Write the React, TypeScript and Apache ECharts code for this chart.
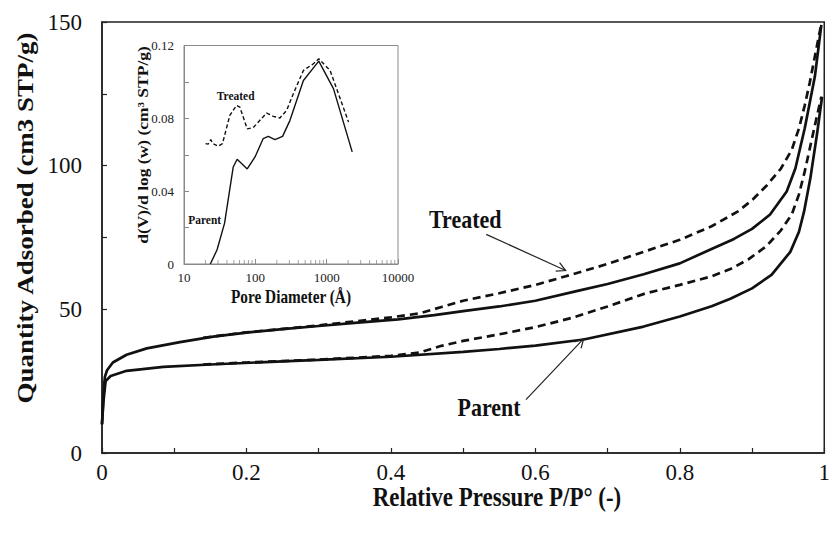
import React, { useEffect, useRef } from "react";
import * as echarts from "echarts";

// ---------- Main isotherm data: [P/P°, quantity adsorbed] ----------
const treatedAds: number[][] = [
  [0, 10], [0.002, 20], [0.004, 26.5], [0.007, 28.8], [0.015, 31.5], [0.034, 34.2],
  [0.062, 36.4], [0.108, 38.6], [0.154, 40.5], [0.2, 41.9], [0.25, 43.1], [0.3, 44.2],
  [0.35, 45.3], [0.41, 46.5], [0.46, 48], [0.5, 49.4], [0.55, 51], [0.6, 53],
  [0.66, 56.5], [0.7, 58.8], [0.75, 62.2], [0.8, 66], [0.844, 71], [0.875, 74.5],
  [0.9, 78], [0.925, 83], [0.948, 91], [0.96, 99], [0.973, 113], [0.987, 131], [0.996, 149],
];
const treatedDes: number[][] = [
  [0.14, 40.1], [0.2, 42], [0.3, 44.4], [0.4, 47.2], [0.44, 48.6], [0.47, 50.8],
  [0.5, 53], [0.55, 55.6], [0.6, 58.5], [0.642, 61.5], [0.7, 65.8], [0.752, 70.2],
  [0.8, 74.2], [0.844, 78.9], [0.88, 84], [0.9, 88], [0.92, 93], [0.94, 99],
  [0.955, 105.5], [0.965, 113], [0.973, 121], [0.98, 129], [0.987, 138], [0.996, 149.5],
];
const parentAds: number[][] = [
  [0, 10], [0.002, 18], [0.005, 25], [0.012, 26.8], [0.034, 28.6], [0.085, 30],
  [0.15, 30.8], [0.25, 31.9], [0.3, 32.4], [0.4, 33.5], [0.5, 35.2], [0.55, 36.2],
  [0.6, 37.4], [0.667, 39.5], [0.75, 44], [0.8, 47.5], [0.844, 51.1], [0.87, 53.7],
  [0.9, 57.3], [0.927, 62], [0.953, 70], [0.965, 77], [0.972, 84], [0.981, 96],
  [0.99, 111], [0.997, 124],
];
const parentDes: number[][] = [
  [0.14, 30.8], [0.2, 31.5], [0.3, 32.5], [0.4, 33.8], [0.44, 35], [0.47, 37.3],
  [0.5, 39], [0.55, 41.3], [0.6, 43.8], [0.65, 47], [0.7, 51], [0.752, 55.5],
  [0.8, 58.5], [0.844, 61.5], [0.87, 64], [0.895, 67.4], [0.92, 72], [0.94, 77.5],
  [0.955, 83], [0.965, 90], [0.973, 98], [0.987, 114], [0.996, 124],
];

// ---------- Inset pore size distribution: [pore diameter Å, dV/dlog(w)] ----------
const parentPsd: number[][] = [
  [23.4, 0], [29, 0.0077], [37, 0.0223], [49, 0.0533], [55.6, 0.0575], [77, 0.0522],
  [99, 0.0588], [129, 0.0689], [152, 0.0701], [188, 0.0683], [241, 0.0701],
  [306, 0.0789], [472, 0.1008], [775, 0.1114], [1245, 0.0963], [2280, 0.0616],
];
const treatedPsd: number[][] = [
  [20, 0.0661], [21.8, 0.0658], [23.7, 0.0683], [25.6, 0.0661], [30, 0.0647],
  [34.6, 0.0661], [43.9, 0.0816], [54.4, 0.0871], [60.7, 0.0862], [76.9, 0.0742],
  [93.4, 0.0749], [116, 0.0789], [144, 0.0829], [179, 0.0811], [221, 0.0802],
  [275, 0.0844], [341, 0.0935], [472, 0.1063], [652, 0.11], [775, 0.1127],
  [1117, 0.1063], [2026, 0.078],
];

// ---------- Tick labels ----------
const mainXTickLabels = ["0", "0.2", "0.4", "0.6", "0.8", "1"];
const mainYTickLabels = ["0", "50", "100", "150"];
const insetXTickLabels = ["10", "100", "1000", "10000"];
const insetYTickLabels = ["0", "0.04", "0.08", "0.12"];
const insetMinorLogTicks = [20, 30, 40, 50, 60, 70, 80, 90, 200, 300, 400, 500, 600, 700, 800, 900, 2000, 3000, 4000, 5000, 6000, 7000, 8000, 9000];

// ---------- Annotation anchors (data coordinates) ----------
const treatedLabelAt = [0.503, 81.3];
const treatedArrowFrom = [0.532, 76.1];
const treatedArrowTo = [0.642, 63.5];
const parentLabelAt = [0.536, 15.8];
const parentArrowFrom = [0.587, 18.6];
const parentArrowTo = [0.667, 39.8];
const insetTreatedLabelAt = [53, 0.0926];
const insetParentLabelAt = [19.5, 0.0241];

const SERIF = "'Liberation Serif', 'Times New Roman', serif";
const INK = "#111";
const GRAY = "#8a8a8a";

export default function App() {
  const ref = useRef<HTMLDivElement>(null);

  useEffect(() => {
    const chart = echarts.init(ref.current!, null, { renderer: "svg" });

    const mainLine = (data: number[][], dashed: boolean) => ({
      type: "line",
      xAxisIndex: 0,
      yAxisIndex: 0,
      data,
      showSymbol: false,
      symbol: "none",
      silent: true,
      lineStyle: { color: INK, width: 2.7, type: dashed ? [8, 5] : "solid" },
      z: 3,
    });
    const insetLine = (data: number[][], dashed: boolean) => ({
      type: "line",
      xAxisIndex: 1,
      yAxisIndex: 1,
      data,
      showSymbol: false,
      symbol: "none",
      silent: true,
      lineStyle: { color: INK, width: 1.4, type: dashed ? [4, 2.5] : "solid" },
      z: 12,
    });

    chart.setOption({
      animation: false,
      backgroundColor: "#ffffff",
      grid: [
        { left: 102, right: 7, top: 22, bottom: 80, show: true, borderColor: "#222", borderWidth: 1.5, backgroundColor: "transparent", z: 0 },
        { left: 184, top: 45.5, width: 214, height: 218.5, show: true, borderColor: GRAY, borderWidth: 1, backgroundColor: "#fff", z: 8 },
      ],
      xAxis: [
        {
          gridIndex: 0, type: "value", min: 0, max: 1, interval: 0.2,
          axisLine: { lineStyle: { color: "#222", width: 1.5 } },
          axisTick: { inside: true, length: 5, lineStyle: { color: "#222", width: 1.2 } },
          minorTick: { show: true, splitNumber: 2, length: 5, lineStyle: { color: "#222", width: 1.2 } },
          splitLine: { show: false },
          axisLabel: {
            fontSize: 23, fontFamily: SERIF, color: INK, margin: 8,
            formatter: (_v: number, i: number) => mainXTickLabels[i] ?? "",
          },
        },
        {
          gridIndex: 1, type: "log", logBase: 10, min: 10, max: 10000,
          axisLine: { lineStyle: { color: GRAY, width: 1 } },
          axisTick: { inside: true, length: 5, lineStyle: { color: GRAY } },
          splitLine: { show: false },
          axisLabel: {
            fontSize: 13, fontFamily: SERIF, color: "#222", margin: 7,
            formatter: (_v: number, i: number) => insetXTickLabels[i] ?? "",
          },
          z: 10,
        },
      ],
      yAxis: [
        {
          gridIndex: 0, type: "value", min: 0, max: 150, interval: 50,
          axisLine: { show: true, lineStyle: { color: "#222", width: 1.5 } },
          axisTick: { show: true, inside: true, length: 5, lineStyle: { color: "#222", width: 1.2 } },
          minorTick: { show: true, splitNumber: 2, length: 5, lineStyle: { color: "#222", width: 1.2 } },
          splitLine: { show: false },
          axisLabel: {
            fontSize: 23, fontFamily: SERIF, color: INK, margin: 20,
            formatter: (_v: number, i: number) => mainYTickLabels[i] ?? "",
          },
        },
        {
          gridIndex: 1, type: "value", min: 0, max: 0.12, interval: 0.04,
          axisLine: { show: true, lineStyle: { color: GRAY, width: 1 } },
          axisTick: { show: true, inside: true, length: 5, lineStyle: { color: GRAY } },
          minorTick: { show: true, splitNumber: 2, length: 5, lineStyle: { color: GRAY } },
          splitLine: { show: false },
          axisLabel: {
            fontSize: 13, fontFamily: SERIF, color: "#222", margin: 10,
            formatter: (_v: number, i: number) => insetYTickLabels[i] ?? "",
          },
          z: 10,
        },
      ],
      series: [
        mainLine(parentAds, false),
        mainLine(parentDes, true),
        mainLine(treatedAds, false),
        mainLine(treatedDes, true),
        insetLine(parentPsd, false),
        insetLine(treatedPsd, true),
        {
          type: "scatter",
          xAxisIndex: 1,
          yAxisIndex: 1,
          data: insetMinorLogTicks.map((v) => [v, 0]),
          symbol: "rect",
          symbolSize: [1, 4],
          symbolOffset: [0, -2],
          itemStyle: { color: GRAY },
          silent: true,
          z: 11,
        },
      ],
    });

    const px = (grid: number, p: number[]) => chart.convertToPixel({ gridIndex: grid }, p) as number[];

    const arrow = (from: number[], to: number[]) => {
      const a = px(0, from);
      const b = px(0, to);
      const dx = b[0] - a[0];
      const dy = b[1] - a[1];
      const len = Math.hypot(dx, dy);
      const ux = dx / len;
      const uy = dy / len;
      const head = 10;
      const ang = (28 * Math.PI) / 180;
      const rot = (s: number) => [
        b[0] - head * (ux * Math.cos(s * ang) - uy * Math.sin(s * ang)),
        b[1] - head * (ux * Math.sin(s * ang) + uy * Math.cos(s * ang)),
      ];
      return [
        { type: "line", shape: { x1: a[0], y1: a[1], x2: b[0], y2: b[1] }, style: { stroke: "#222", lineWidth: 1.2 }, z: 20 },
        { type: "polyline", shape: { points: [rot(1), b, rot(-1)] }, style: { stroke: "#222", lineWidth: 1.2, fill: null }, z: 20 },
      ];
    };

    const label = (text: string, p: number[], size: number, sx: number) => ({
      type: "text",
      x: p[0],
      y: p[1],
      scaleX: sx,
      z: 20,
      style: { text, fontSize: size, fontWeight: "bold", fontFamily: SERIF, fill: INK, align: "center", verticalAlign: "middle" },
    });

    chart.setOption({
      graphic: [
        // axis titles
        {
          type: "text", x: 25, y: 218, rotation: Math.PI / 2, scaleY: 0.85, z: 20,
          style: { text: "Quantity Adsorbed (cm3 STP/g)", fontSize: 27, fontWeight: "bold", fontFamily: SERIF, fill: INK, align: "center", verticalAlign: "middle" },
        },
        {
          type: "text", x: 497, y: 497, scaleX: 0.85, z: 20,
          style: { text: "Relative Pressure P/P° (-)", fontSize: 27, fontWeight: "bold", fontFamily: SERIF, fill: INK, align: "center", verticalAlign: "middle" },
        },
        {
          type: "text", x: 143, y: 145, rotation: Math.PI / 2, scaleY: 0.85, z: 20,
          style: { text: "d(V)/d log (w) (cm³ STP/g)", fontSize: 17.5, fontWeight: "bold", fontFamily: SERIF, fill: INK, align: "center", verticalAlign: "middle" },
        },
        {
          type: "text", x: 291, y: 297, scaleX: 0.85, z: 20,
          style: { text: "Pore Diameter (Å)", fontSize: 18, fontWeight: "bold", fontFamily: SERIF, fill: INK, align: "center", verticalAlign: "middle" },
        },
        // annotations
        label("Treated", px(0, treatedLabelAt), 25, 0.88),
        label("Parent", px(0, parentLabelAt), 25, 0.88),
        ...arrow(treatedArrowFrom, treatedArrowTo),
        ...arrow(parentArrowFrom, parentArrowTo),
        label("Treated", px(1, insetTreatedLabelAt), 13, 0.88),
        label("Parent", px(1, insetParentLabelAt), 13, 0.88),
      ],
    });

    return () => chart.dispose();
  }, []);

  return <div ref={ref} style={{ position: "fixed", left: 0, top: 0, width: 833, height: 533 }} />;
}
